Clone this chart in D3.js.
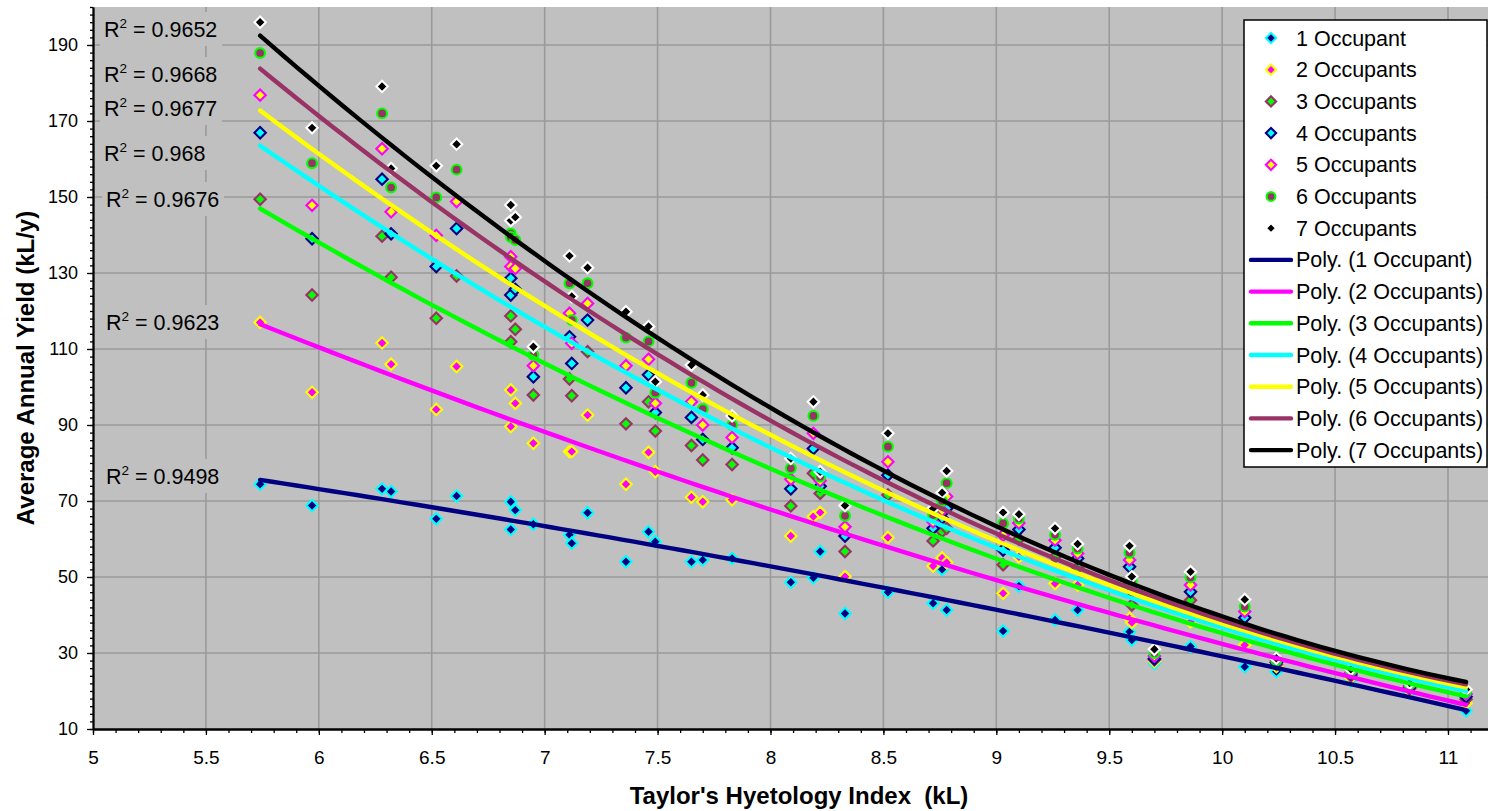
<!DOCTYPE html>
<html>
<head>
<meta charset="utf-8">
<script src="https://cdn.jsdelivr.net/npm/d3@7"></script>
<style>
  html, body { margin: 0; padding: 0; background: #ffffff; }
  svg { display: block; font-family: "Liberation Sans", Arial, sans-serif; }
</style>
</head>
<body>
<svg id="chart" width="1488" height="811"></svg>
<script>
// ---- data: Taylor's Hyetology Index (kL) per site ----
const hyetologyIndex = [5.74, 5.97, 6.28, 6.32, 6.52, 6.61, 6.85, 6.85, 6.87, 6.95,
  7.11, 7.12, 7.19, 7.36, 7.46, 7.49, 7.65, 7.70, 7.83, 8.09,
  8.19, 8.22, 8.33, 8.52, 8.72, 8.76, 8.78, 9.03, 9.10, 9.26,
  9.36, 9.59, 9.60, 9.70, 9.86, 10.10, 10.24, 10.57, 10.83, 11.08];

// ---- average annual yield (kL/y) by household size ----
const occupants1 = [74.4, 68.8, 73.2, 72.5, 65.3, 71.3, 69.8, 62.5, 67.6, 63.9,
  61.1, 58.9, 66.9, 54.0, 61.9, 59.3, 54.0, 54.5, 54.9, 48.6,
  49.8, 56.7, 40.4, 46.0, 43.1, 52.0, 41.3, 35.8, 47.6, 38.7,
  41.3, 35.6, 33.4, 27.3, 31.7, 26.4, 25.1, 22.7, 19.4, 14.8];
const occupants2 = [117.0, 98.6, 111.6, 106.0, 94.1, 105.4, 99.2, 89.6, 95.7, 85.2,
  83.0, 83.0, 92.6, 74.4, 82.8, 77.7, 71.0, 69.8, 70.3, 60.8,
  65.9, 67.0, 50.1, 60.4, 52.9, 55.0, 53.8, 45.7, 55.3, 48.3,
  47.9, 39.1, 38.0, 27.8, 38.2, 32.1, 26.4, 23.5, 20.1, 16.8];
const occupants3 = [149.4, 124.2, 139.7, 128.9, 118.1, 129.2, 118.7, 111.9, 115.2, 97.9,
  102.1, 97.7, 109.3, 90.3, 96.1, 88.4, 84.6, 80.8, 79.6, 68.7,
  77.3, 72.0, 56.7, 71.6, 59.5, 62.0, 62.8, 53.2, 60.0, 55.3,
  52.5, 48.0, 42.6, 28.2, 43.9, 37.0, 27.0, 24.0, 20.6, 17.8];
const occupants4 = [166.9, 139.0, 154.7, 140.3, 131.7, 141.7, 128.6, 124.2, 125.7, 102.7,
  113.2, 106.2, 117.6, 99.8, 103.2, 93.3, 92.0, 86.2, 84.0, 73.2,
  83.8, 73.9, 60.8, 76.8, 62.8, 65.5, 68.0, 57.1, 62.5, 57.7,
  54.9, 52.7, 46.2, 28.5, 46.1, 39.3, 27.5, 24.5, 21.0, 18.5];
const occupants5 = [176.8, 147.8, 162.7, 146.1, 139.9, 148.8, 134.3, 131.7, 131.2, 105.6,
  119.4, 111.5, 122.0, 105.6, 107.3, 95.7, 96.1, 90.0, 86.7, 75.7,
  87.8, 75.3, 63.2, 80.3, 64.5, 67.5, 71.2, 61.0, 64.2, 59.7,
  56.2, 54.5, 47.6, 29.2, 47.9, 40.9, 27.9, 24.9, 21.4, 19.2];
const occupants6 = [187.9, 158.9, 172.0, 152.5, 149.9, 157.2, 140.4, 139.5, 138.7, 108.4,
  127.3, 117.6, 127.3, 113.0, 112.0, 98.5, 101.1, 94.2, 90.0, 78.6,
  92.4, 76.4, 66.1, 84.3, 66.3, 70.0, 74.7, 64.1, 65.4, 61.1,
  57.5, 56.4, 48.9, 30.0, 49.9, 42.2, 28.0, 25.3, 21.8, 19.8];
const occupants7 = [196.0, 168.2, 179.1, 157.5, 158.2, 163.9, 147.9, 143.8, 144.7, 110.6,
  134.5, 123.8, 131.4, 119.8, 115.9, 101.4, 105.8, 97.9, 92.4, 81.2,
  96.1, 77.7, 68.8, 87.8, 68.0, 72.2, 77.9, 67.0, 66.5, 62.8,
  58.7, 58.2, 50.1, 31.0, 51.4, 44.1, 28.6, 25.7, 22.1, 20.4];

const seriesNames = ["1 Occupant", "2 Occupants", "3 Occupants", "4 Occupants",
  "5 Occupants", "6 Occupants", "7 Occupants"];
const rSquaredText = ["0.9498", "0.9623", "0.9676", "0.968", "0.9677", "0.9668", "0.9652"];

const xTickValues = [5, 5.5, 6, 6.5, 7, 7.5, 8, 8.5, 9, 9.5, 10, 10.5, 11];
const yTickValues = [10, 30, 50, 70, 90, 110, 130, 150, 170, 190];

// ---- styling per series ----
const markerStyles = [
  { shape: "diamond", fill: "#000080", stroke: "#00ffff" },
  { shape: "diamond", fill: "#ff00ff", stroke: "#ffff00" },
  { shape: "diamond", fill: "#00ff00", stroke: "#993366" },
  { shape: "diamond", fill: "#00ffff", stroke: "#000080" },
  { shape: "diamond", fill: "#ffff00", stroke: "#ff00ff" },
  { shape: "circle",  fill: "#993366", stroke: "#00ff00" },
  { shape: "diamond", fill: "#000000", stroke: "#ffffff" }
];
const trendColors = ["#000080", "#ff00ff", "#00ff00", "#00ffff", "#ffff00", "#993366", "#000000"];
// R² label placement (pixel centre y, left x) for each series
const rLabelLayout = [
  { y: 476, x: 106 }, { y: 322, x: 106 }, { y: 199, x: 106 }, { y: 153, x: 104 },
  { y: 108, x: 104 }, { y: 74, x: 104 }, { y: 29, x: 104 }
];

const seriesValues = [occupants1, occupants2, occupants3, occupants4, occupants5, occupants6, occupants7];
const series = seriesValues.map((vals, i) => ({
  name: seriesNames[i],
  points: vals.map((v, j) => ({ x: hyetologyIndex[j], y: v })),
  style: markerStyles[i],
  color: trendColors[i],
  r2: rSquaredText[i]
}));

// ---- scales ----
const svg = d3.select("#chart");
const plotLeft = 93, plotTop = 7, plotBottom = 729, plotRight = 1488;
const pxPerUnit = 225.83;
const x = d3.scaleLinear().domain([5, 11.5]).range([plotLeft, plotLeft + 6.5 * pxPerUnit]);
const y = d3.scaleLinear().domain([10, 200]).range([plotBottom, plotTop]);

// plot background
svg.append("rect")
  .attr("x", plotLeft).attr("y", plotTop)
  .attr("width", plotRight - plotLeft).attr("height", plotBottom - plotTop)
  .attr("fill", "#c0c0c0");

// gridlines
const grid = svg.append("g").attr("stroke", "#9a9a9a").attr("stroke-width", 1.6);
grid.selectAll("line.v").data(xTickValues.filter(v => v > 5)).join("line")
  .attr("x1", d => x(d)).attr("x2", d => x(d))
  .attr("y1", plotTop).attr("y2", plotBottom);
grid.selectAll("line.h").data(yTickValues.filter(v => v > 10)).join("line")
  .attr("x1", plotLeft).attr("x2", plotRight)
  .attr("y1", d => y(d)).attr("y2", d => y(d));

// ---- R² labels with opaque boxes ----
const rGroup = svg.append("g");
series.forEach((s, i) => {
  const L = rLabelLayout[i];
  rGroup.append("rect")
    .attr("x", L.x - 4).attr("y", L.y - 17)
    .attr("width", 122).attr("height", 34)
    .attr("fill", "#c0c0c0");
  const t = rGroup.append("text")
    .attr("x", L.x).attr("y", L.y + 8)
    .attr("font-size", 21.5).attr("fill", "#000");
  t.append("tspan").text("R");
  t.append("tspan").attr("font-size", 13.5).attr("dy", -9).text("2");
  t.append("tspan").attr("dy", 9).text(" = " + s.r2);
});

// ---- markers ----
function diamondPath(h) { return `M0,${-h}L${h},0L0,${h}L${-h},0Z`; }
function drawMarker(g, style, cx, cy, scale) {
  if (style.shape === "circle") {
    g.append("circle").attr("cx", cx).attr("cy", cy).attr("r", 4.9 * scale)
      .attr("fill", style.fill).attr("stroke", style.stroke).attr("stroke-width", 2.1);
  } else {
    g.append("path").attr("d", diamondPath(5.7 * scale))
      .attr("transform", `translate(${cx},${cy})`)
      .attr("fill", style.fill).attr("stroke", style.stroke).attr("stroke-width", 2.1);
  }
}
const markerLayer = svg.append("g");
series.forEach(s => {
  const g = markerLayer.append("g");
  s.points.forEach(p => drawMarker(g, s.style, x(p.x), y(p.y), 1));
});

// ---- second-order polynomial trendlines (least squares) ----
function polyFit2(pts) {
  let n = pts.length, sx = 0, sx2 = 0, sx3 = 0, sx4 = 0, sy = 0, sxy = 0, sx2y = 0;
  pts.forEach(p => {
    const a = p.x, b = p.y;
    sx += a; sx2 += a * a; sx3 += a * a * a; sx4 += a * a * a * a;
    sy += b; sxy += a * b; sx2y += a * a * b;
  });
  const M = [[n, sx, sx2, sy], [sx, sx2, sx3, sxy], [sx2, sx3, sx4, sx2y]];
  for (let c = 0; c < 3; c++) {
    let piv = c;
    for (let r = c + 1; r < 3; r++) if (Math.abs(M[r][c]) > Math.abs(M[piv][c])) piv = r;
    [M[c], M[piv]] = [M[piv], M[c]];
    for (let r = 0; r < 3; r++) {
      if (r === c) continue;
      const f = M[r][c] / M[c][c];
      for (let k = c; k < 4; k++) M[r][k] -= f * M[c][k];
    }
  }
  const c0 = M[0][3] / M[0][0], c1 = M[1][3] / M[1][1], c2 = M[2][3] / M[2][2];
  return v => c0 + c1 * v + c2 * v * v;
}
const xMin = d3.min(hyetologyIndex), xMax = d3.max(hyetologyIndex);
const sampleX = d3.range(0, 101).map(k => xMin + (xMax - xMin) * k / 100);
const line = d3.line().x(d => x(d[0])).y(d => y(d[1]));
const trendLayer = svg.append("g");
series.forEach(s => {
  const f = polyFit2(s.points);
  trendLayer.append("path")
    .attr("d", line(sampleX.map(v => [v, f(v)])))
    .attr("fill", "none").attr("stroke", s.color)
    .attr("stroke-width", 4.4).attr("stroke-linecap", "round").attr("stroke-linejoin", "round");
});

// ---- axes ----
const fmt = d3.format("");
const yAxis = svg.append("g").attr("transform", `translate(${plotLeft},0)`)
  .call(d3.axisLeft(y).tickValues(yTickValues).tickSize(6).tickSizeOuter(0).tickPadding(9).tickFormat(fmt));
const yMinor = svg.append("g").attr("transform", `translate(${plotLeft},0)`)
  .call(d3.axisLeft(y).tickValues(d3.range(10, 201, 2)).tickSize(3).tickSizeOuter(0).tickFormat(""));
const xAxis = svg.append("g").attr("transform", `translate(0,${plotBottom})`)
  .call(d3.axisBottom(x).tickValues(xTickValues).tickSize(6).tickSizeOuter(0).tickPadding(16).tickFormat(fmt));
const xMinor = svg.append("g").attr("transform", `translate(0,${plotBottom})`)
  .call(d3.axisBottom(x).tickValues(d3.range(50, 116, 1).map(v => v / 10)).tickSize(4).tickSizeOuter(0).tickFormat(""));
[yAxis, yMinor, xAxis, xMinor].forEach(g => {
  g.selectAll("path.domain").attr("stroke", "#000").attr("stroke-width", 1.8);
  g.selectAll(".tick line").attr("stroke", "#000").attr("stroke-width", 1.3);
  g.selectAll(".tick text").attr("fill", "#000")
    .style("font-family", '"Liberation Sans", Arial, sans-serif');
});
yAxis.selectAll(".tick text").attr("font-size", 18);
xAxis.selectAll(".tick text").attr("font-size", 19);

// axis titles
svg.append("text")
  .attr("transform", `translate(34,${(plotTop + plotBottom) / 2}) rotate(-90)`)
  .attr("text-anchor", "middle").attr("font-weight", "bold").attr("font-size", 24)
  .text("Average Annual Yield (kL/y)");
svg.append("text")
  .attr("x", 799).attr("y", 804)
  .attr("text-anchor", "middle").attr("font-weight", "bold").attr("font-size", 24)
  .text("Taylor's Hyetology Index  (kL)")
  .attr("xml:space", "preserve").style("white-space", "pre");

// ---- legend ----
const legend = svg.append("g");
legend.append("rect")
  .attr("x", 1244).attr("y", 20).attr("width", 243).attr("height", 447)
  .attr("fill", "#ffffff").attr("stroke", "#000").attr("stroke-width", 1.5);
const rowY = k => 38 + k * 31.7;
series.forEach((s, i) => {
  const g = legend.append("g");
  drawMarker(g, s.style, 1271, rowY(i), 0.9);
  g.append("text").attr("x", 1296).attr("y", rowY(i) + 7.5)
    .attr("font-size", 21.5).text(s.name);
});
series.forEach((s, i) => {
  const k = i + 7;
  legend.append("line")
    .attr("x1", 1251).attr("x2", 1291).attr("y1", rowY(k)).attr("y2", rowY(k))
    .attr("stroke", s.color).attr("stroke-width", 4.4).attr("stroke-linecap", "round");
  legend.append("text").attr("x", 1296).attr("y", rowY(k) + 7.5)
    .attr("font-size", 21.5).text(`Poly. (${s.name})`);
});
</script>
</body>
</html>
